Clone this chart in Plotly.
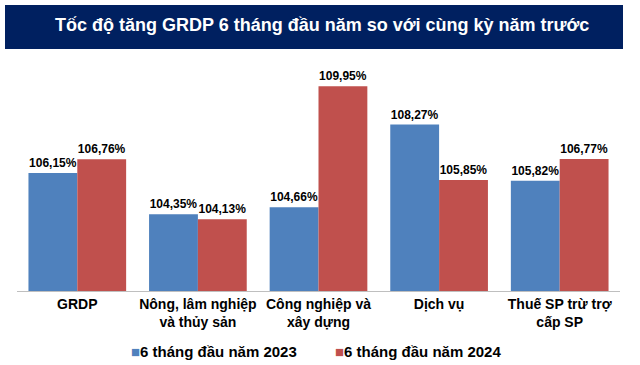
import plotly.graph_objects as go

categories = ["GRDP", "Nông, lâm nghiệp<br>và thủy sản", "Công nghiệp và<br>xây dựng", "Dịch vụ", "Thuế SP trừ trợ<br>cấp SP"]
series_names = ["6 tháng đầu năm 2023", "6 tháng đầu năm 2024"]
values_2023 = [106.15, 104.35, 104.66, 108.27, 105.82]
values_2024 = [106.76, 104.13, 109.95, 105.85, 106.77]
colors = ["#4F81BD", "#C0504D"]

FONT = "Liberation Sans, Arial, sans-serif"
L, R_EDGE = 17, 620
W = R_EDGE - L

fig = go.Figure()
for name, vals, col in zip(series_names, [values_2023, values_2024], colors):
    fig.add_trace(go.Bar(
        x=categories, y=vals, name=name,
        marker=dict(color=col, line=dict(width=0)),
        texttemplate="%{y:.2f}%", textposition="outside",
        textfont=dict(family=FONT, size=12, color="#000000", weight="bold"),
        cliponaxis=False, showlegend=False,
    ))

# manual legend (compact, like the reference)
legend_x = [214, 418]
legend_anns = []
for name, col, lx in zip(series_names, colors, legend_x):
    legend_anns.append(dict(
        text=f"<span style='color:{col}'>■</span>{name}",
        xref="paper", yref="paper", x=(lx - L) / W, y=(291 - 351) / 206,
        xanchor="center", yanchor="middle", showarrow=False,
        font=dict(family=FONT, size=15, color="#000000", weight="bold")))

fig.update_layout(
    template="none",
    width=640, height=365,
    margin=dict(l=L, r=640 - R_EDGE, t=85, b=74, autoexpand=False),
    paper_bgcolor="white", plot_bgcolor="white",
    barmode="group", bargap=0.19, bargroupgap=0,
    separators=",.",
    showlegend=False,
    font=dict(family=FONT),
    xaxis=dict(showline=True, linecolor="#BFBFBF", linewidth=1, ticks="", showgrid=False,
               automargin=False, zeroline=False,
               tickfont=dict(family=FONT, size=14, color="#000000", weight="bold")),
    yaxis=dict(range=[101, 110], visible=False, showgrid=False, automargin=False),
    shapes=[dict(type="rect", xref="paper", yref="paper",
                 x0=(5 - L) / W, x1=(623 - L) / W,
                 y0=(291 - 49) / 206, y1=(291 - 5) / 206,
                 fillcolor="#002060", line=dict(width=0), layer="above")],
    annotations=[dict(text="Tốc độ tăng GRDP 6 tháng đầu năm so với cùng kỳ năm trước",
                      xref="paper", yref="paper", x=(322 - L) / W, y=(291 - 25) / 206,
                      xanchor="center", yanchor="middle", showarrow=False,
                      font=dict(family=FONT, size=18, color="white", weight="bold"))] + legend_anns,
)

fig.write_html("out.html", config={"displayModeBar": False},
               post_script="document.body.style.margin='0';document.body.style.overflow='hidden';")
